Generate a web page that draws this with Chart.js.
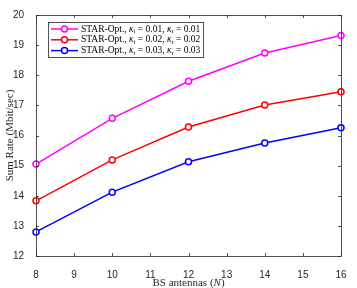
<!DOCTYPE html>
<html lang="en">
<head>
  <meta charset="UTF-8" />
  <title>Sum Rate vs BS antennas</title>
  <script src="https://cdn.jsdelivr.net/npm/chart.js"></script>
  <style>
    html, body { margin: 0; padding: 0; background: #fff; }
    #rateChart { display: block; }
  </style>
</head>
<body>
  <canvas id="rateChart" width="357" height="288"></canvas>

  <script>
// data
const antennas = [8, 10, 12, 14, 16];
const rateK001 = [15.05, 16.57, 17.80, 18.74, 19.32];
const rateK002 = [13.83, 15.19, 16.28, 17.01, 17.45];
const rateK003 = [12.80, 14.12, 15.13, 15.75, 16.26];
const kappaT = ['0.01', '0.02', '0.03'];
const kappaR = ['0.01', '0.02', '0.03'];
const lineColors = ['#ff00ff', '#ff0000', '#0000ff'];
const xTicks = [8, 9, 10, 11, 12, 13, 14, 15, 16];
const yTicks = [12, 13, 14, 15, 16, 17, 18, 19, 20];

const axisColor = '#262626';
const serif = "'Liberation Serif', 'DejaVu Serif', serif";
const sans = "'Liberation Sans', Arial, sans-serif";

function toPoints(ys) {
  return antennas.map((x, i) => ({ x: x, y: ys[i] }));
}

const series = [rateK001, rateK002, rateK003];

// frame, inward ticks, x title and legend (MATLAB look)
const matlabBox = {
  id: 'matlabBox',
  afterDraw(chart) {
    const ctx = chart.ctx;
    const a = chart.chartArea;
    const xs = chart.scales.x, ys = chart.scales.y;
    const tl = 3;
    ctx.save();
    ctx.strokeStyle = axisColor;
    ctx.lineWidth = 0.8;
    ctx.beginPath();
    xTicks.forEach(v => {
      const px = Math.round(xs.getPixelForValue(v)) + 0.5;
      ctx.moveTo(px, a.bottom); ctx.lineTo(px, a.bottom - tl);
      ctx.moveTo(px, a.top); ctx.lineTo(px, a.top + tl);
    });
    yTicks.forEach(v => {
      const py = Math.round(ys.getPixelForValue(v)) + 0.5;
      ctx.moveTo(a.left, py); ctx.lineTo(a.left + tl, py);
      ctx.moveTo(a.right, py); ctx.lineTo(a.right - tl, py);
    });
    ctx.stroke();
    ctx.strokeRect(Math.round(a.left) + 0.5, Math.round(a.top) + 0.5,
      Math.round(a.right - a.left), Math.round(a.bottom - a.top));

    // x axis title with italic N
    ctx.fillStyle = axisColor;
    ctx.textBaseline = 'middle';
    const cx = (a.left + a.right) / 2, ty = a.bottom + 27;
    const p1 = 'BS antennas (', p2 = 'N', p3 = ')';
    ctx.font = '11px ' + serif;
    const w1 = ctx.measureText(p1).width, w3 = ctx.measureText(p3).width;
    ctx.font = 'italic 11px ' + serif;
    const w2 = ctx.measureText(p2).width;
    let x0 = cx - (w1 + w2 + w3) / 2;
    ctx.textAlign = 'left';
    ctx.font = '11px ' + serif;
    ctx.fillText(p1, x0, ty);
    ctx.font = 'italic 11px ' + serif;
    ctx.fillText(p2, x0 + w1, ty);
    ctx.font = '11px ' + serif;
    ctx.fillText(p3, x0 + w1 + w2, ty);

    // legend
    const lx = 48, ly = 22, lw = 155, lh = 35;
    ctx.fillStyle = '#fff';
    ctx.fillRect(lx, ly, lw, lh);
    ctx.strokeStyle = axisColor;
    ctx.lineWidth = 0.8;
    ctx.strokeRect(lx + 0.5, ly + 0.5, lw, lh);
    chart.data.datasets.forEach((ds, i) => {
      const ry = ly + 7 + i * 10.8;
      ctx.strokeStyle = ds.borderColor;
      ctx.lineWidth = 1.5;
      ctx.beginPath();
      ctx.moveTo(lx + 3, ry); ctx.lineTo(lx + 30, ry);
      ctx.stroke();
      ctx.beginPath();
      ctx.arc(lx + 16.5, ry, 3, 0, Math.PI * 2);
      ctx.fillStyle = '#fff';
      ctx.fill();
      ctx.stroke();
      let tx = lx + 33;
      const parts = [
        ['9.5px ', 'STAR-Opt., ', 0], ['italic 9.5px ', '\u03BA', 0], ['6.5px ', 't', 2.5],
        ['9.5px ', ' = ' + kappaT[i] + ', ', 0], ['italic 9.5px ', '\u03BA', 0], ['6.5px ', 'r', 2.5],
        ['9.5px ', ' = ' + kappaR[i], 0]
      ];
      ctx.fillStyle = '#000';
      ctx.textAlign = 'left';
      parts.forEach(p => {
        ctx.font = p[0] + serif;
        ctx.fillText(p[1], tx, ry + p[2]);
        tx += ctx.measureText(p[1]).width;
      });
    });
    ctx.restore();
  }
};

const ctx = document.getElementById('rateChart').getContext('2d');
new Chart(ctx, {
  type: 'line',
  data: {
    datasets: series.map((ys, i) => ({
      label: 'STAR-Opt., \u03BAt = ' + kappaT[i] + ', \u03BAr = ' + kappaR[i],
      data: toPoints(ys),
      borderColor: lineColors[i],
      backgroundColor: '#fff',
      borderWidth: 1.5,
      pointRadius: 3,
      pointBorderWidth: 1.5,
      pointBackgroundColor: '#fff',
      pointBorderColor: lineColors[i],
      tension: 0,
      clip: false
    }))
  },
  options: {
    responsive: false,
    devicePixelRatio: 1,
    animation: false,
    layout: { padding: { top: 15, right: 16, left: 0, bottom: 0 } },
    plugins: { legend: { display: false }, tooltip: { enabled: false } },
    scales: {
      x: {
        type: 'linear',
        min: 8, max: 16,
        afterBuildTicks: s => { s.ticks = xTicks.map(v => ({ value: v })); },
        afterFit: s => { s.height = 32; },
        grid: { display: false },
        border: { display: false },
        ticks: { color: axisColor, font: { family: sans, size: 10 }, padding: 5, maxRotation: 0 }
      },
      y: {
        min: 12, max: 20,
        afterBuildTicks: s => { s.ticks = yTicks.map(v => ({ value: v })); },
        afterFit: s => { s.width = 36; },
        grid: { display: false },
        border: { display: false },
        ticks: { color: axisColor, font: { family: sans, size: 10 }, padding: 4 },
        title: { display: true, text: 'Sum Rate (Mbit/sec)', color: axisColor,
          font: { family: serif, size: 11 }, padding: { top: 4, bottom: 0 } }
      }
    }
  },
  plugins: [matlabBox]
});
  </script>
</body>
</html>
